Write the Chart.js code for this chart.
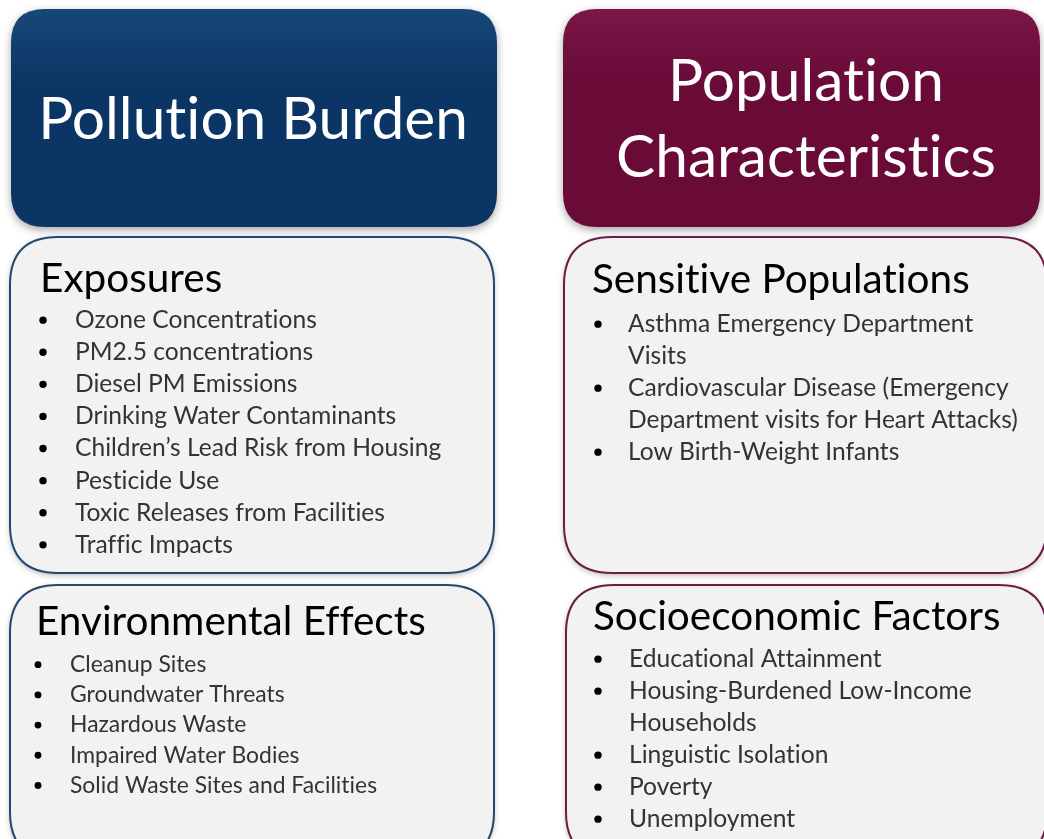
<!DOCTYPE html>
<html>
<head>
<meta charset="utf-8">
<title>Pollution Burden / Population Characteristics</title>
<script src="https://cdn.jsdelivr.net/npm/chart.js@4.4.1/dist/chart.umd.min.js"></script>
<style>
  html, body { margin: 0; padding: 0; background: #fff; }
  #wrap { width: 1044px; height: 839px; position: relative; overflow: hidden; }
</style>
</head>
<body>
<div id="wrap">
  <canvas id="diagram" width="1044" height="839"
    aria-label="Pollution Burden: Exposures and Environmental Effects. Population Characteristics: Sensitive Populations and Socioeconomic Factors."></canvas>
</div>
<script>
// Texts of the diagram
const headerTitles = [['Pollution Burden'], ['Population', 'Characteristics']];
const groupTitles = ['Exposures', 'Environmental Effects', 'Sensitive Populations', 'Socioeconomic Factors'];
const exposureItems = [
  'Ozone Concentrations',
  'PM2.5 concentrations',
  'Diesel PM Emissions',
  'Drinking Water Contaminants',
  'Children\u2019s Lead Risk from Housing',
  'Pesticide Use',
  'Toxic Releases from Facilities',
  'Traffic Impacts'
];
const effectItems = [
  'Cleanup Sites',
  'Groundwater Threats',
  'Hazardous Waste',
  'Impaired Water Bodies',
  'Solid Waste Sites and Facilities'
];
const sensitiveItems = [
  'Asthma Emergency Department\nVisits',
  'Cardiovascular Disease (Emergency\nDepartment visits for Heart Attacks)',
  'Low Birth-Weight Infants'
];
const socioItems = [
  'Educational Attainment',
  'Housing-Burdened Low-Income\nHouseholds',
  'Linguistic Isolation',
  'Poverty',
  'Unemployment'
];

// colours per column
const palette = [
  { top: '#174879', bottom: '#0b3564', border: '#22496f' },
  { top: '#7a1746', bottom: '#690a37', border: '#6c1c44' }
];

const FAMILY = 'Lato, "Open Sans", sans-serif';

// Lato joins "ti", "ff", "fi"... ; a zero width non-joiner keeps the letters apart
function unjoin(text) {
  return text.replace(/([tf])(?=[a-z])/g, '$1\u200C');
}

// font size fitted so a reference string gets a given width
function fitSize(ctx, text, width) {
  ctx.font = '100px ' + FAMILY;
  return 100 * width / ctx.measureText(unjoin(text)).width;
}

function roundRect(ctx, x0, y0, x1, y1, r) {
  ctx.beginPath();
  ctx.moveTo(x0 + r, y0);
  ctx.lineTo(x1 - r, y0);
  ctx.quadraticCurveTo(x1, y0, x1, y0 + r);
  ctx.lineTo(x1, y1 - r);
  ctx.quadraticCurveTo(x1, y1, x1 - r, y1);
  ctx.lineTo(x0 + r, y1);
  ctx.quadraticCurveTo(x0, y1, x0, y1 - r);
  ctx.lineTo(x0, y0 + r);
  ctx.quadraticCurveTo(x0, y0, x0 + r, y0);
  ctx.closePath();
}

// layout, in scale units (x 0..1044, y 0..839 from the top)
const headers = [
  { col: 0, x0: 11, x1: 497, y0: 9, y1: 227, lines: headerTitles[0], cx: 253, baselines: [139] },
  { col: 1, x0: 563, x1: 1040, y0: 9, y1: 227, lines: headerTitles[1], cx: 806, baselines: [101, 177] }
];
const groups = [
  { col: 0, x0: 10, x1: 494, y0: 237, y1: 573, title: groupTitles[0], tx: 40, ty: 292,
    items: exposureItems, bx: 43, ix: 75, first: 328, step: 32.1, style: 'item' },
  { col: 0, x0: 10, x1: 494, y0: 585, y1: 860, title: groupTitles[1], tx: 36, ty: 635,
    items: effectItems, bx: 38, ix: 70, first: 672, step: 30.2, style: 'small' },
  { col: 1, x0: 564, x1: 1047, y0: 237, y1: 573, title: groupTitles[2], tx: 592, ty: 293,
    items: sensitiveItems, bx: 598, ix: 628, first: 332, step: 32, style: 'item' },
  { col: 1, x0: 566, x1: 1047, y0: 585, y1: 860, title: groupTitles[3], tx: 593, ty: 630,
    items: socioItems, bx: 598, ix: 629, first: 667, step: 32, style: 'item' }
];

const diagramPlugin = {
  id: 'diagram',
  afterDraw(chart) {
    const ctx = chart.ctx;
    const xs = chart.scales.x, ys = chart.scales.y;
    const px = v => xs.getPixelForValue(v);
    const py = v => ys.getPixelForValue(v);

    const sizes = {
      header: fitSize(ctx, 'Characteristics', 380),
      title: fitSize(ctx, 'Socioeconomic Factors', 407),
      item: fitSize(ctx, 'Department visits for Heart Attacks)', 390),
      small: fitSize(ctx, 'Solid Waste Sites and Facilities', 307)
    };

    ctx.save();
    // header blocks
    headers.forEach(h => {
      const c = palette[h.col];
      const x0 = px(h.x0), x1 = px(h.x1), y0 = py(h.y0), y1 = py(h.y1);
      const g = ctx.createLinearGradient(0, y0, 0, y1);
      g.addColorStop(0, c.top);
      g.addColorStop(0.35, c.bottom);
      g.addColorStop(1, c.bottom);
      ctx.save();
      ctx.shadowColor = 'rgba(0,0,0,0.35)';
      ctx.shadowBlur = 8;
      ctx.shadowOffsetY = 3;
      roundRect(ctx, x0, y0, x1, y1, 34);
      ctx.fillStyle = g;
      ctx.fill();
      ctx.restore();

      ctx.fillStyle = '#ffffff';
      ctx.textAlign = 'center';
      ctx.textBaseline = 'alphabetic';
      ctx.font = sizes.header.toFixed(1) + 'px ' + FAMILY;
      h.lines.forEach((line, i) => ctx.fillText(unjoin(line), px(h.cx), py(h.baselines[i])));
    });

    // content boxes
    groups.forEach(b => {
      const c = palette[b.col];
      const x0 = px(b.x0), x1 = px(b.x1), y0 = py(b.y0), y1 = py(b.y1);
      ctx.save();
      ctx.shadowColor = 'rgba(0,0,0,0.3)';
      ctx.shadowBlur = 6;
      ctx.shadowOffsetY = 2;
      roundRect(ctx, x0, y0, x1, y1, 48);
      ctx.fillStyle = '#f2f2f2';
      ctx.fill();
      ctx.restore();
      roundRect(ctx, x0, y0, x1, y1, 48);
      ctx.lineWidth = 2;
      ctx.strokeStyle = c.border;
      ctx.stroke();

      ctx.textAlign = 'left';
      ctx.textBaseline = 'alphabetic';
      ctx.fillStyle = '#000000';
      ctx.font = sizes.title.toFixed(1) + 'px ' + FAMILY;
      ctx.fillText(unjoin(b.title), px(b.tx), py(b.ty));

      const fs = sizes[b.style];
      ctx.font = fs.toFixed(1) + 'px ' + FAMILY;
      let line = 0;
      b.items.forEach(item => {
        const y = b.first + line * b.step;
        ctx.fillStyle = '#000000';
        ctx.beginPath();
        ctx.arc(px(b.bx), py(y - fs * 0.32), fs * 0.15, 0, Math.PI * 2);
        ctx.fill();
        ctx.fillStyle = '#333333';
        item.split('\n').forEach(part => {
          ctx.fillText(unjoin(part), px(b.ix), py(b.first + line * b.step));
          line++;
        });
      });
    });
    ctx.restore();
  }
};

new Chart(document.getElementById('diagram'), {
  type: 'scatter',
  data: { datasets: [] },
  options: {
    responsive: false,
    animation: false,
    events: [],
    layout: { padding: 0 },
    plugins: { legend: { display: false }, tooltip: { enabled: false }, title: { display: false } },
    scales: {
      x: { type: 'linear', min: 0, max: 1044, display: false },
      y: { type: 'linear', min: 0, max: 839, reverse: true, display: false }
    }
  },
  plugins: [diagramPlugin]
});
</script>
</body>
</html>
